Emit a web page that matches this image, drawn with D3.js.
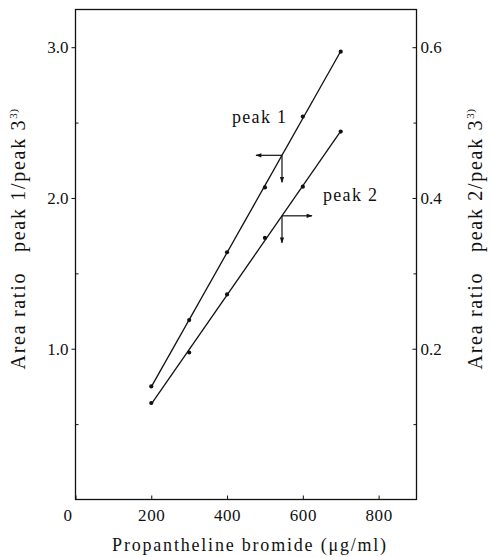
<!DOCTYPE html>
<html>
<head>
<meta charset="utf-8">
<script src="https://cdn.jsdelivr.net/npm/d3@7"></script>
<style>
  body { margin: 0; background: #fff; }
  svg text { font-family: "Liberation Serif", Tinos, "Times New Roman", Times, serif !important; }
</style>
</head>
<body>
<svg width="491" height="557"></svg>
<script>
// concentration of propantheline bromide (ug/ml)
const conc = [200, 300, 400, 500, 600, 700]
// peak 1 / peak 3 area ratio (left axis)
const peak1 = [0.75, 1.19, 1.64, 2.07, 2.54, 2.97]
// peak 2 / peak 3 area ratio (right axis)
const peak2 = [0.128, 0.195, 0.272, 0.347, 0.415, 0.488]

const xTicks = [0, 200, 400, 600, 800]
const yLeftTicks = [1.0, 2.0, 3.0]
const yRightTicks = [0.2, 0.4, 0.6]

// where the reading arrows sit on each line
const arrowConc = [545, 545]

const FONT = "Liberation Serif, Times New Roman, serif"
const svg = d3.select("svg")
const pLeft = 75.5, pRight = 416.5, pTop = 9.5, pBottom = 499.5

const xScale = d3.scaleLinear().domain([0, 900]).range([pLeft, pRight])
const yLeft = d3.scaleLinear().domain([0, 3.25]).range([pBottom, pTop])
const yRight = d3.scaleLinear().domain([0, 0.65]).range([pBottom, pTop])

// arrow marker
svg.append("defs").append("marker")
    .attr("id", "arr")
    .attr("viewBox", "0 0 10 10")
    .attr("refX", 9).attr("refY", 5)
    .attr("markerWidth", 7).attr("markerHeight", 5)
    .attr("orient", "auto")
    .append("path").attr("d", "M0,1.5 L10,5 L0,8.5 Z").attr("fill", "#111")

// frame
svg.append("rect")
    .attr("x", pLeft).attr("y", pTop)
    .attr("width", pRight - pLeft).attr("height", pBottom - pTop)
    .attr("fill", "none").attr("stroke", "#111").attr("stroke-width", 1.3)

// axes
const tickFont = g => g.selectAll("text").attr("font-size", 17).attr("fill", "#111")
    .attr("font-family", FONT)

const xAxis = svg.append("g")
    .attr("transform", "translate(0," + pBottom + ")")
    .call(d3.axisTop(xScale).tickValues(xTicks).tickSize(4).tickFormat(d3.format("d")))
xAxis.attr("font-family", null)
xAxis.select(".domain").remove()
xAxis.selectAll("text").attr("y", 16).attr("dy", "0.32em").attr("letter-spacing", 0.6)
xAxis.call(tickFont)
xAxis.selectAll("line").attr("stroke", "#111")
xAxis.selectAll(".tick").filter(d => d == 0).select("text").attr("dx", -8)

const yl = svg.append("g")
    .attr("transform", "translate(" + pLeft + ",0)")
    .call(d3.axisLeft(yLeft).tickValues(yLeftTicks).tickSize(4).tickPadding(3).tickFormat(d3.format(".1f")))
yl.attr("font-family", null)
yl.select(".domain").remove()
yl.call(tickFont)
yl.selectAll("line").attr("stroke", "#111")
svg.append("g")
    .attr("transform", "translate(" + pLeft + ",0)")
    .call(d3.axisRight(yLeft).tickValues([0.5, 1.5, 2.5]).tickSize(3).tickFormat(""))
    .call(g => g.select(".domain").remove())
    .selectAll("line").attr("stroke", "#111")

const yr = svg.append("g")
    .attr("transform", "translate(" + pRight + ",0)")
    .call(d3.axisLeft(yRight).tickValues(yRightTicks).tickSize(4).tickFormat(d3.format(".1f")))
yr.attr("font-family", null)
yr.select(".domain").remove()
yr.selectAll("text").attr("x", 4).attr("text-anchor", "start")
yr.call(tickFont)
yr.selectAll("line").attr("stroke", "#111")
svg.append("g")
    .attr("transform", "translate(" + pRight + ",0)")
    .call(d3.axisLeft(yRight).tickValues([0.1, 0.3, 0.5]).tickSize(3).tickFormat(""))
    .call(g => g.select(".domain").remove())
    .selectAll("line").attr("stroke", "#111")

// least squares fit line
const fit = (xs, ys) => {
    const mx = d3.mean(xs), my = d3.mean(ys)
    const b = d3.sum(xs.map((x, i) => (x - mx) * (ys[i] - my))) / d3.sum(xs.map(x => (x - mx) ** 2))
    return x => my + b * (x - mx)
}
const series = [
    { vals: peak1, scale: yLeft },
    { vals: peak2, scale: yRight }
]
series.forEach((s, k) => {
    const f = fit(conc, s.vals)
    const ends = [conc[0], conc[conc.length - 1]]
    svg.append("path")
        .datum(ends)
        .attr("fill", "none").attr("stroke", "#111").attr("stroke-width", 1.3)
        .attr("d", d3.line().x(d => xScale(d)).y(d => s.scale(f(d))))
    svg.append("g").selectAll("circle")
        .data(conc)
        .enter()
        .append("circle")
        .attr("cx", d => xScale(d))
        .attr("cy", (d, i) => s.scale(s.vals[i]))
        .attr("r", 2.1)
        .attr("fill", "#111")

    // reading arrows: down to x axis, and sideways to its own y axis
    const ax = xScale(arrowConc[k]), ay = s.scale(f(arrowConc[k]))
    const side = k == 0 ? -26 : 30
    svg.append("line")
        .attr("x1", ax).attr("y1", ay).attr("x2", ax + side).attr("y2", ay)
        .attr("stroke", "#111").attr("stroke-width", 1.2).attr("marker-end", "url(#arr)")
    svg.append("line")
        .attr("x1", ax).attr("y1", ay).attr("x2", ax).attr("y2", ay + 27)
        .attr("stroke", "#111").attr("stroke-width", 1.2).attr("marker-end", "url(#arr)")
})

// line labels
svg.append("text").attr("x", 232).attr("y", 123).attr("font-family", FONT)
    .attr("font-size", 18).attr("letter-spacing", 1.3).attr("fill", "#111").text("peak 1")
svg.append("text").attr("x", 323).attr("y", 201).attr("font-family", FONT)
    .attr("font-size", 18).attr("letter-spacing", 1.3).attr("fill", "#111").text("peak 2")

// axis titles
svg.append("text")
    .attr("x", 250).attr("y", 551).attr("font-family", FONT)
    .attr("text-anchor", "middle").attr("font-size", 18).attr("letter-spacing", 1.8)
    .attr("fill", "#111")
    .text("Propantheline bromide (μg/ml)")

const yTitle = (x, n) => {
    const t = svg.append("text")
        .attr("transform", "translate(" + x + ",239) rotate(-90)")
        .attr("font-family", FONT)
        .attr("text-anchor", "middle").attr("font-size", 20).attr("letter-spacing", 1.7)
        .attr("fill", "#111")
    t.append("tspan").text("Area ratio")
    t.append("tspan").attr("dx", 20).text("peak " + n + "/peak 3")
    t.append("tspan").attr("font-size", 11).attr("letter-spacing", 0.5).attr("dy", -8).text("3)")
}
yTitle(25, 1)
yTitle(482, 2)
</script>
</body>
</html>
